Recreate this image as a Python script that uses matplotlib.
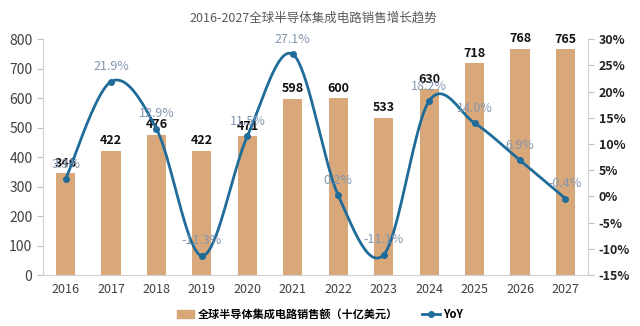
import numpy as np
import matplotlib
matplotlib.use("Agg")
import matplotlib.pyplot as plt
from matplotlib.lines import Line2D
from matplotlib.patches import Patch

plt.rcParams['font.family'] = ['Noto Sans CJK SC', 'DejaVu Sans']

years = ['2016', '2017', '2018', '2019', '2020', '2021', '2022', '2023', '2024', '2025', '2026', '2027']
sales = [346, 422, 476, 422, 471, 598, 600, 533, 630, 718, 768, 765]
yoy = [3.3, 21.9, 12.9, -11.3, 11.5, 27.1, 0.2, -11.1, 18.2, 14.0, 6.9, -0.4]

bar_color = '#D8A77A'
line_color = '#1F6B99'
yoy_label_color = '#8497B0'


def smooth(xs, ys, n=40):
    # excel-ish smoothed line: catmull-rom as cubic bezier
    xs = np.asarray(xs, float)
    ys = np.asarray(ys, float)
    px = np.concatenate([[xs[0]], xs, [xs[-1]]])
    py = np.concatenate([[ys[0]], ys, [ys[-1]]])
    outx, outy = [], []
    t = np.linspace(0, 1, n)
    for i in range(1, len(px) - 2):
        p0 = np.array([px[i], py[i]])
        p3 = np.array([px[i + 1], py[i + 1]])
        c1 = p0 + (p3 - np.array([px[i - 1], py[i - 1]])) / 6
        c2 = p3 - (np.array([px[i + 2], py[i + 2]]) - p0) / 6
        b = ((1 - t) ** 3)[:, None] * p0 + (3 * (1 - t) ** 2 * t)[:, None] * c1 \
            + (3 * (1 - t) * t ** 2)[:, None] * c2 + (t ** 3)[:, None] * p3
        outx.extend(b[:, 0])
        outy.extend(b[:, 1])
    return np.array(outx), np.array(outy)


fig = plt.figure(figsize=(6.4, 3.26), dpi=100)
ax = fig.add_axes([0.067, 0.156, 0.852, 0.724])
x = np.arange(len(years))

ax.bar(x, sales, width=0.42, color=bar_color, zorder=2)
for xi, v in zip(x, sales):
    ax.text(xi, v + 12, str(v), ha='center', va='bottom', fontsize=9,
            fontweight='bold', color='#111111', zorder=5)

ax.set_ylim(0, 800)
ax.set_yticks(range(0, 801, 100))
ax.set_xlim(-0.5, len(years) - 0.5)
ax.set_xticks(x)
ax.set_xticklabels(years)
ax.tick_params(axis='x', length=0, labelsize=9, colors='#404040', pad=6)
ax.tick_params(axis='y', length=4, labelsize=10, colors='#404040', color='#BFBFBF', width=0.8)
for s in ['top', 'right']:
    ax.spines[s].set_visible(False)
for s in ['left', 'bottom']:
    ax.spines[s].set_color('#D0D0D0')

ax2 = ax.twinx()
sx, sy = smooth(x, yoy)
ax2.plot(sx, sy, color=line_color, lw=2, zorder=4)
ax2.plot(x, yoy, 'o', color=line_color, ms=4, zorder=4)
for xi, v in zip(x, yoy):
    ax2.text(xi, v + 1.6, f'{v:.1f}%', ha='center', va='bottom', fontsize=9,
             color=yoy_label_color, zorder=6)
ax2.set_ylim(-15, 30)
ax2.set_yticks(range(-15, 31, 5))
ax2.set_yticklabels([f'{t}%' for t in range(-15, 31, 5)], fontweight='bold')
ax2.tick_params(axis='y', length=4, labelsize=9, colors='#222222', color='#BFBFBF', width=0.8)
for s in ['top', 'left', 'bottom']:
    ax2.spines[s].set_visible(False)
ax2.spines['right'].set_color('#D0D0D0')

fig.text(0.49, 0.945, '2016-2027全球半导体集成电路销售增长趋势', ha='center', va='center',
         fontsize=9, color='#595959')

handles = [Patch(color=bar_color, label='全球半导体集成电路销售额（十亿美元）'),
           Line2D([0], [0], color=line_color, lw=2, marker='o', ms=4, label='YoY')]
fig.legend(handles=handles, loc='center', bbox_to_anchor=(0.5, 0.036), ncol=2, frameon=False,
           prop={'size': 8, 'weight': 'bold'}, handlelength=1.6, columnspacing=2.2,
           handletextpad=0.3)

fig.savefig('out.png', dpi=100)
